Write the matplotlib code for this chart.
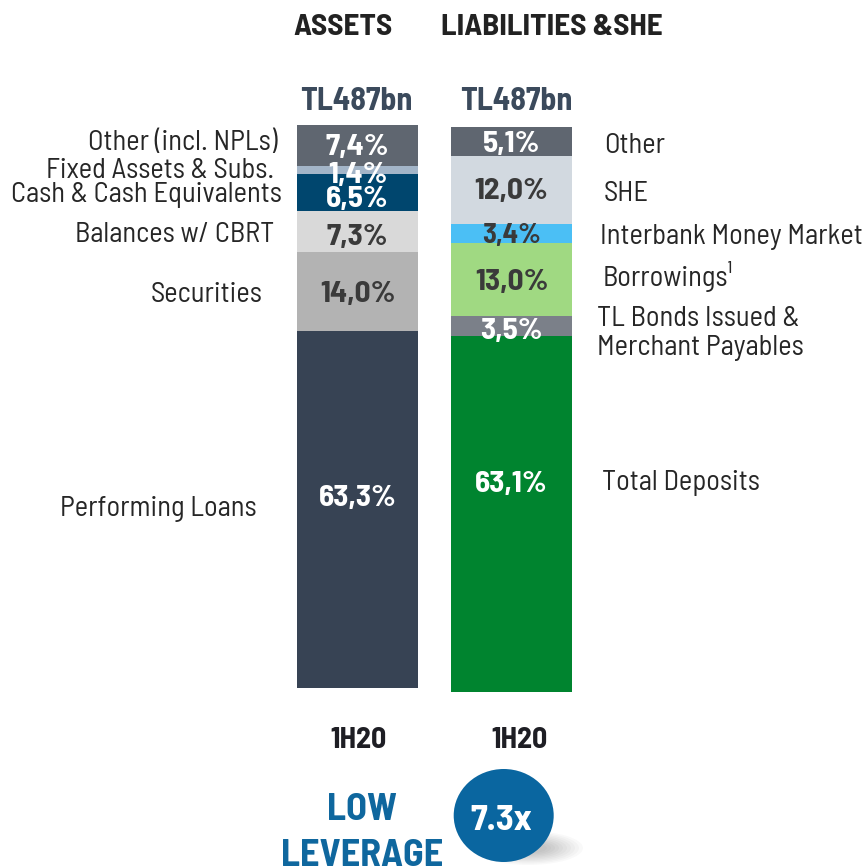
import matplotlib.pyplot as plt
from matplotlib.patches import Ellipse

plt.rcParams['font.family'] = ['Barlow Semi Condensed', 'DejaVu Sans']

# assets side, bottom to top
asset_names = ['Performing Loans', 'Securities', 'Balances w/ CBRT',
               'Cash & Cash Equivalents', 'Fixed Assets & Subs.', 'Other (incl. NPLs)']
asset_vals = [63.3, 14.0, 7.3, 6.5, 1.4, 7.4]
asset_colors = ['#374354', '#b3b3b3', '#d9d9d9', '#00466e', '#a3b5c8', '#5f6670']
asset_text = ['white', '#3a3a3a', '#3a3a3a', 'white', 'white', 'white']

# liabilities side, bottom to top
liab_names = ['Total Deposits', 'TL Bonds Issued &\nMerchant Payables', 'Borrowings¹',
              'Interbank Money Market', 'SHE', 'Other']
liab_vals = [63.1, 3.5, 13.0, 3.4, 12.0, 5.1]
liab_colors = ['#00842f', '#7b8089', '#a0d982', '#4bbff5', '#d2d9e0', '#5f6670']
liab_text = ['white', 'white', '#3a3a3a', '#3a3a3a', '#3a3a3a', 'white']

totals = ['TL487bn', 'TL487bn']
periods = ['1H20', '1H20']
leverage = '7.3x'

# layout in picture pixels (x from left, y from top)
asset_label_px = [(257, 506), (262, 292), (274, 232), (282, 192), (274, 168), (277, 140)]
liab_label_px = [(602, 480), (597, 329), (603, 274), (600, 234), (604, 191), (604, 143)]
asset_pct_shift = [13.5, 0, -3.5, -4, -2, 1]      # px, up
liab_pct_shift = [32.5, -2, 0, 0, 1.5, 0]
liab_pct_size = [22.5, 22.5, 22.5, 20.5, 22.5, 22.5]


def px2x(px):
    return (px - 357.5) / 154.0


def px2y(py):
    return (688 - py) / 5.64


fig = plt.figure(figsize=(8.65, 8.66), dpi=100)
ax = fig.add_axes([0, 0, 1, 1])
ax.set_xlim(px2x(0), px2x(865))
ax.set_ylim(px2y(866), px2y(0))
ax.axis('off')

w = 121 / 154.0
sides = [(0, asset_vals, asset_colors, asset_text, asset_pct_shift, [22.5] * 6, 0.0),
         (1, liab_vals, liab_colors, liab_text, liab_pct_shift, liab_pct_size, -0.7)]
for x, vals, colors, tcols, shifts, sizes, base in sides:
    bottom = base
    for v, c, tc, s, fs in zip(vals, colors, tcols, shifts, sizes):
        ax.bar(x, v, w, bottom=bottom, color=c, linewidth=0)
        ax.text(x, bottom + v / 2 + s / 5.64, f'{v:.1f}%'.replace('.', ','), ha='center',
                va='center_baseline', fontsize=fs, fontweight='bold', color=tc)
        bottom += v

for name, (px, py) in zip(asset_names, asset_label_px):
    ax.text(px2x(px), px2y(py), name, ha='right', va='center_baseline', fontsize=20.5, color='#262626')
for name, (px, py) in zip(liab_names, liab_label_px):
    ax.text(px2x(px), px2y(py), name, ha='left', va='center_baseline', fontsize=20.5, color='#262626',
            linespacing=1.16)

ax.text(px2x(343.5), px2y(24.5), 'ASSETS', ha='center', va='center_baseline',
        fontsize=22.5, fontweight='bold', color='#222222')
ax.text(px2x(552), px2y(24.5), 'LIABILITIES &SHE', ha='center', va='center_baseline',
        fontsize=22.5, fontweight='bold', color='#222222')

for px, t in zip([356.5, 516.5], totals):
    ax.text(px2x(px), px2y(98.5), t, ha='center', va='center_baseline', fontsize=23,
            fontweight='bold', color='#3b4a5c')
for px, p in zip([358.5, 520], periods):
    ax.text(px2x(px), px2y(737.5), p, ha='center', va='center_baseline', fontsize=21.5,
            fontweight='bold', color='#1e1e24')

ax.text(px2x(362), px2y(806.5), 'LOW', ha='center', va='center_baseline', fontsize=27.5,
        fontweight='bold', color='#0f679e')
ax.text(px2x(362), px2y(852.5), 'LEVERAGE', ha='center', va='center_baseline', fontsize=27.5,
        fontweight='bold', color='#0f679e')

# soft shadow under the circle
for i in range(10):
    ax.add_patch(Ellipse((px2x(528), px2y(848)), (110 - i * 8) / 154.0, (34 - i * 2.6) / 5.64,
                         color='#000000', alpha=0.025, linewidth=0))
ax.add_patch(Ellipse((px2x(503.7), px2y(815.5)), 100 / 154.0, 93 / 5.64, color='#0a66a0', linewidth=0))
ax.text(px2x(501), px2y(817), leverage, ha='center', va='center_baseline', fontsize=26.5,
        fontweight='bold', color='white')

fig.savefig('out.png', dpi=100)
